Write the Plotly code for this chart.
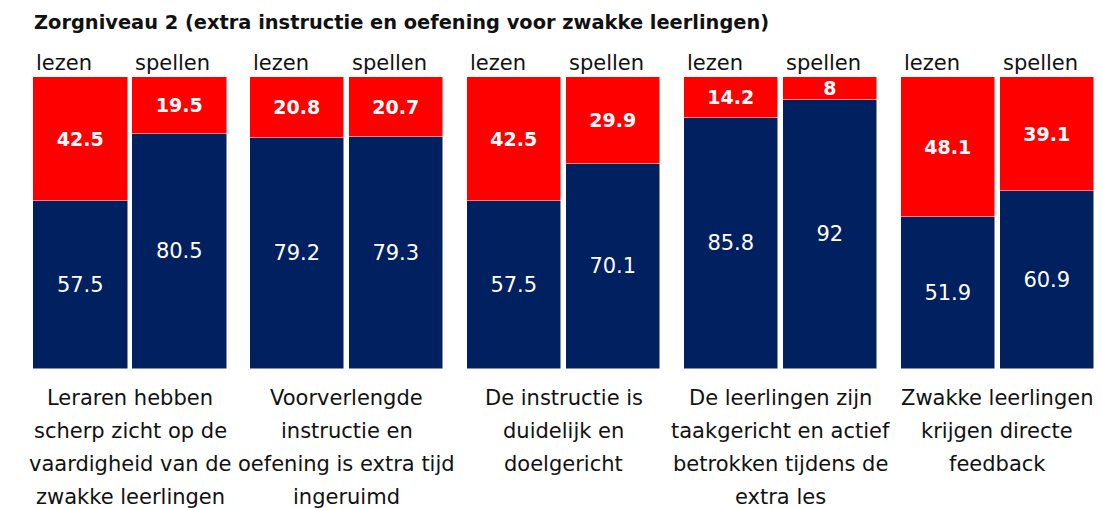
import plotly.graph_objects as go

# ---- data ----
categories = [
    "Leraren hebben<br>scherp zicht op de<br>vaardigheid van de<br>zwakke leerlingen",
    "Voorverlengde<br>instructie en<br>oefening is extra tijd<br>ingeruimd",
    "De instructie is<br>duidelijk en<br>doelgericht",
    "De leerlingen zijn<br>taakgericht en actief<br>betrokken tijdens de<br>extra les",
    "Zwakke leerlingen<br>krijgen directe<br>feedback",
]
subjects = ["lezen", "spellen"]
voldoende = [57.5, 80.5, 79.2, 79.3, 57.5, 70.1, 85.8, 92, 51.9, 60.9]      # navy (bottom)
onvoldoende = [42.5, 19.5, 20.8, 20.7, 42.5, 29.9, 14.2, 8, 48.1, 39.1]    # red (top)
title_text = "Zorgniveau 2 (extra instructie en oefening voor zwakke leerlingen)"

# ---- layout helpers ----
W, H = 1094, 500          # page body adds an 8px margin
GROUP_PITCH = 2.19
BAR_W = 0.95
NAVY = "#002060"
RED = "#FF0000"
FONT = "DejaVu Sans"

xs, sub_labels = [], []
for g in range(len(categories)):
    for k, s in enumerate(subjects):
        xs.append(g * GROUP_PITCH + k)
        sub_labels.append(s)

fig = go.Figure()
fig.add_trace(go.Bar(
    x=xs, y=voldoende, width=BAR_W,
    marker=dict(color=NAVY, line=dict(color="white", width=0.5)),
    text=[str(v) for v in voldoende], textposition="inside", textangle=0,
    insidetextanchor="middle", constraintext="none",
    textfont=dict(family=FONT, size=21, color="white"),
    hoverinfo="skip", showlegend=False,
))
fig.add_trace(go.Bar(
    x=xs, y=onvoldoende, width=BAR_W,
    marker=dict(color=RED, line=dict(color="white", width=0.5)),
    text=["<b>%s</b>" % v for v in onvoldoende], textposition="inside", textangle=0,
    insidetextanchor="middle", constraintext="none",
    textfont=dict(family=FONT, size=19, color="white"),
    hoverinfo="skip", showlegend=False,
))

annotations = []
# subject labels above each bar
for x, s in zip(xs, sub_labels):
    annotations.append(dict(
        x=x - BAR_W / 2, y=100, xref="x", yref="y", text=s, showarrow=False,
        xanchor="left", yanchor="bottom", xshift=1, yshift=0,
        font=dict(family=FONT, size=21, color="#111111"),
    ))
# category labels under each group (one annotation per line for wide spacing)
for g, cat in enumerate(categories):
    cx = g * GROUP_PITCH + 0.5
    for i, line in enumerate(cat.split("<br>")):
        annotations.append(dict(
            x=cx, y=0, xref="x", yref="y", text=line, showarrow=False,
            xanchor="center", yanchor="middle", yshift=-29 - i * 33,
            font=dict(family=FONT, size=21, color="#111111"),
        ))

fig.update_layout(
    width=W, height=H,
    margin=dict(l=0, r=0, t=69, b=139),
    paper_bgcolor="white", plot_bgcolor="white",
    barmode="stack", bargap=0,
    title=dict(text="<b>" + title_text + "</b>", x=26 / W, xanchor="left",
               xref="paper", yref="container", y=1 - 14 / H, yanchor="middle",
               font=dict(family=FONT, size=19.4, color="#111111")),
    xaxis=dict(visible=False, range=[-72.5 / 99, -72.5 / 99 + W / 99]),
    yaxis=dict(visible=False, range=[0, 100]),
    annotations=annotations,
)

fig.write_html("out.html")
